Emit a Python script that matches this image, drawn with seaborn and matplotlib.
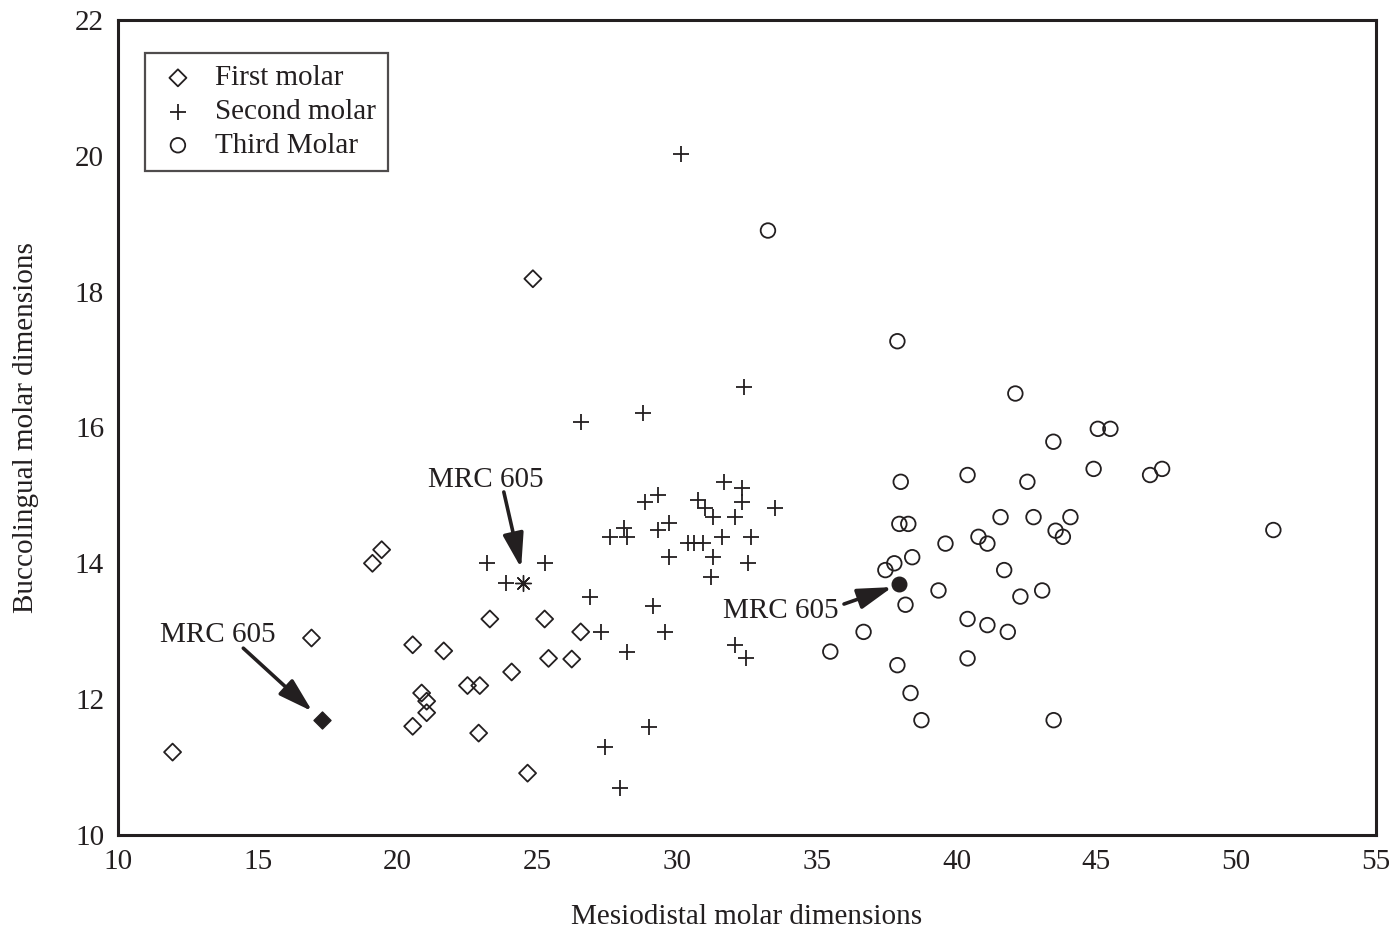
import matplotlib
matplotlib.use("Agg")
import matplotlib.pyplot as plt
import seaborn as sns
import pandas as pd

# Data
first_x = [11.95, 16.92, 19.10, 19.43, 20.54, 20.54, 20.86, 21.04, 21.04, 21.65,
           22.50, 22.94, 22.90, 23.30, 24.08, 24.65, 24.84, 25.26, 25.40, 26.23, 26.55]
first_y = [11.22, 12.90, 14.00, 14.20, 12.80, 11.60, 12.09, 11.97, 11.80, 12.71,
           12.20, 12.20, 11.50, 13.18, 12.40, 10.91, 18.19, 13.18, 12.60, 12.59, 12.99]

second_x = [30.14, 32.40, 28.78, 26.56, 31.68, 32.32, 32.32, 33.50, 28.85, 29.30,
            30.75, 31.00, 31.30, 32.08, 29.70, 29.30, 27.60, 28.22, 28.10, 30.40,
            30.60, 30.93, 31.60, 32.65, 29.70, 31.30, 32.55, 31.20, 23.20, 25.27,
            23.87, 26.90, 29.15, 27.28, 29.56, 28.20, 32.08, 32.47, 28.99, 27.42, 27.96]
second_y = [20.02, 16.60, 16.21, 16.08, 15.20, 15.11, 14.90, 14.81, 14.90, 15.00,
            14.93, 14.81, 14.68, 14.68, 14.59, 14.49, 14.39, 14.39, 14.52, 14.30,
            14.30, 14.30, 14.39, 14.39, 14.10, 14.10, 14.00, 13.80, 14.00, 14.00,
            13.71, 13.51, 13.37, 12.99, 12.99, 12.70, 12.80, 12.60, 11.59, 11.30, 10.69]

third_x = [33.25, 37.88, 42.10, 45.05, 45.50, 43.46, 44.90, 40.39, 42.53, 38.00,
           37.95, 38.27, 41.57, 42.75, 44.07, 43.54, 43.80, 40.78, 41.10, 39.60,
           38.41, 37.77, 37.45, 41.70, 38.17, 39.35, 42.28, 43.06, 40.39, 41.10,
           41.83, 36.67, 35.48, 37.88, 40.39, 38.35, 38.74, 43.47, 46.92, 47.35, 51.33]
third_y = [18.90, 17.27, 16.50, 15.98, 15.98, 15.79, 15.39, 15.30, 15.20, 15.20,
           14.58, 14.58, 14.68, 14.68, 14.68, 14.48, 14.39, 14.39, 14.29, 14.29,
           14.09, 14.00, 13.90, 13.90, 13.39, 13.60, 13.51, 13.60, 13.18, 13.09,
           12.99, 12.99, 12.70, 12.50, 12.60, 12.09, 11.69, 11.69, 15.30, 15.39, 14.49]

# MRC 605 specimen (first, second, third molar)
mrc_x = [17.31, 24.48, 37.95]
mrc_y = [11.70, 13.71, 13.70]

labels = ["First molar", "Second molar", "Third Molar"]
ink = "#231f20"

sns.set_style("white")
plt.rcParams["font.family"] = ["Liberation Serif", "DejaVu Serif"]
plt.rcParams["font.size"] = 21

first = pd.DataFrame({"x": first_x, "y": first_y})
second = pd.DataFrame({"x": second_x, "y": second_y})
third = pd.DataFrame({"x": third_x, "y": third_y})

fig = plt.figure(figsize=(13.89, 9.30), dpi=100)
ax = fig.add_axes([0.085, 0.1022, 0.9056, 0.8763])

sns.scatterplot(data=first, x="x", y="y", marker="D", s=75, facecolor="none",
                edgecolor=ink, linewidth=1.3, label=labels[0], ax=ax)
sns.scatterplot(data=second, x="x", y="y", marker="+", s=120, color=ink,
                linewidth=1.3, label=labels[1], ax=ax)
sns.scatterplot(data=third, x="x", y="y", marker="o", s=110, facecolor="none",
                edgecolor=ink, linewidth=1.3, label=labels[2], ax=ax)

# highlighted MRC 605 points
ax.scatter(mrc_x[0], mrc_y[0], marker="D", s=75, color=ink, zorder=4)
ax.scatter(mrc_x[1], mrc_y[1], marker=(8, 2, 0), s=130, color=ink, linewidth=1.0, zorder=4)
ax.scatter(mrc_x[2], mrc_y[2], marker="o", s=110, color=ink, zorder=4)

# annotations
arrow = dict(arrowstyle="-|>,head_length=1.0,head_width=0.3", color=ink, lw=2.6,
             shrinkA=0, shrinkB=0)
ax.text(13.58, 12.94, "MRC 605", ha="center", va="center", color=ink)
ax.annotate("", xy=(16.95, 11.82), xytext=(14.48, 12.75), arrowprops=arrow)
ax.text(23.15, 15.23, "MRC 605", ha="center", va="center", color=ink)
ax.annotate("", xy=(24.42, 13.93), xytext=(23.80, 15.05), arrowprops=arrow)
ax.text(33.70, 13.30, "MRC 605", ha="center", va="center", color=ink)
ax.annotate("", xy=(37.70, 13.65), xytext=(35.97, 13.40), arrowprops=arrow)

ax.set_xlim(10, 55)
ax.set_ylim(10, 22)
ax.set_xticks(range(10, 56, 5))
ax.set_yticks(range(10, 23, 2))
ax.tick_params(length=0, pad=10, labelsize=21, colors=ink)
ax.set_xlabel("Mesiodistal molar dimensions", color=ink, fontsize=21, labelpad=21)
ax.set_ylabel("Buccolingual molar dimensions", color=ink, fontsize=21, labelpad=26)
for sp in ax.spines.values():
    sp.set_color(ink)
    sp.set_linewidth(2.2)

leg = ax.legend(loc="upper left", bbox_to_anchor=(0.0215, 0.959), fontsize=21,
                frameon=True, fancybox=False, borderpad=0.4, labelspacing=0.25,
                handletextpad=0.55, handlelength=1.45, borderaxespad=0)
leg.get_frame().set_edgecolor(ink)
leg.get_frame().set_linewidth(1.6)
for t in leg.get_texts():
    t.set_color(ink)

fig.savefig("out.png", dpi=100)
